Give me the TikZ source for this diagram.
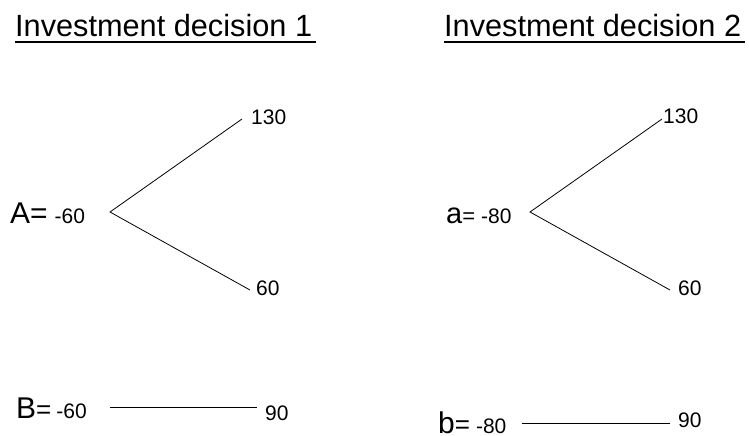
\documentclass[tikz,border=0pt]{standalone}
\usepackage{fontspec}
\setmainfont{Liberation Sans}
\usetikzlibrary{positioning}
\newcommand{\fsz}[2]{{\fontsize{#1}{#1}\selectfont #2}}
\tikzset{
  title/.style={inner sep=0pt, anchor=base west, font=\fontsize{30.7}{31}\selectfont},
  uline/.style={line width=2.4pt},
  root/.style={inner sep=0pt, anchor=base west},
  pay/.style={inner sep=0pt, anchor=base west, font=\fontsize{21}{21}\selectfont},
  branch/.style={line width=0.8pt},
}
\begin{document}
\begin{tikzpicture}[x=1pt,y=-1pt]
  \useasboundingbox (0,0) rectangle (749,436);
  % titles
  \node[title] (t1) at (15,37) {Investment decision 1};
  \node[title] (t2) at (444,37) {Investment decision 2};
  \draw[uline] ([yshift=-5pt]t1.base west) -- ([yshift=-5pt,xshift=4pt]t1.base east);
  \draw[uline] ([yshift=-5pt]t2.base west) -- ([yshift=-5pt,xshift=4pt]t2.base east);
  % decision 1, option A
  \node[root] (A) at (10,223) {\fsz{30}{A=}\hspace{7pt}\fsz{21}{-60}};
  \coordinate (r1) at (110,212);
  \coordinate (u1) at (242,119);
  \coordinate (d1) at (250,290);
  \draw[branch] (u1) -- (r1) -- (d1);
  \node[pay] (u1v) at (251,124) {130};
  \node[pay] (d1v) at (256,295) {60};
  % decision 2, option a
  \node[root] (a) at (446,223) {\fsz{29}{a}\fsz{22}{=}\hspace{6pt}\fsz{21}{-80}};
  \coordinate (r2) at (530,212);
  \coordinate (u2) at (662,119);
  \coordinate (d2) at (670,290);
  \draw[branch] (u2) -- (r2) -- (d2);
  \node[pay] (u2v) at (663,123) {130};
  \node[pay] (d2v) at (678,295) {60};
  % option B
  \node[root] (B) at (16,418) {\fsz{30}{B}\fsz{26}{=}\hspace{5pt}\fsz{21}{-60}};
  \coordinate (b0) at (110,407);
  \coordinate (b1) at (257,407);
  \draw[branch] (b0) -- (b1);
  \node[pay] (bv) at (265,420) {90};
  % option b
  \node[root] (b) at (438,433) {\fsz{30}{b}\fsz{26}{=}\hspace{6pt}\fsz{21}{-80}};
  \coordinate (c0) at (522,423);
  \coordinate (c1) at (670,423);
  \draw[branch] (c0) -- (c1);
  \node[pay] (cv) at (678,427) {90};
\end{tikzpicture}
\end{document}
